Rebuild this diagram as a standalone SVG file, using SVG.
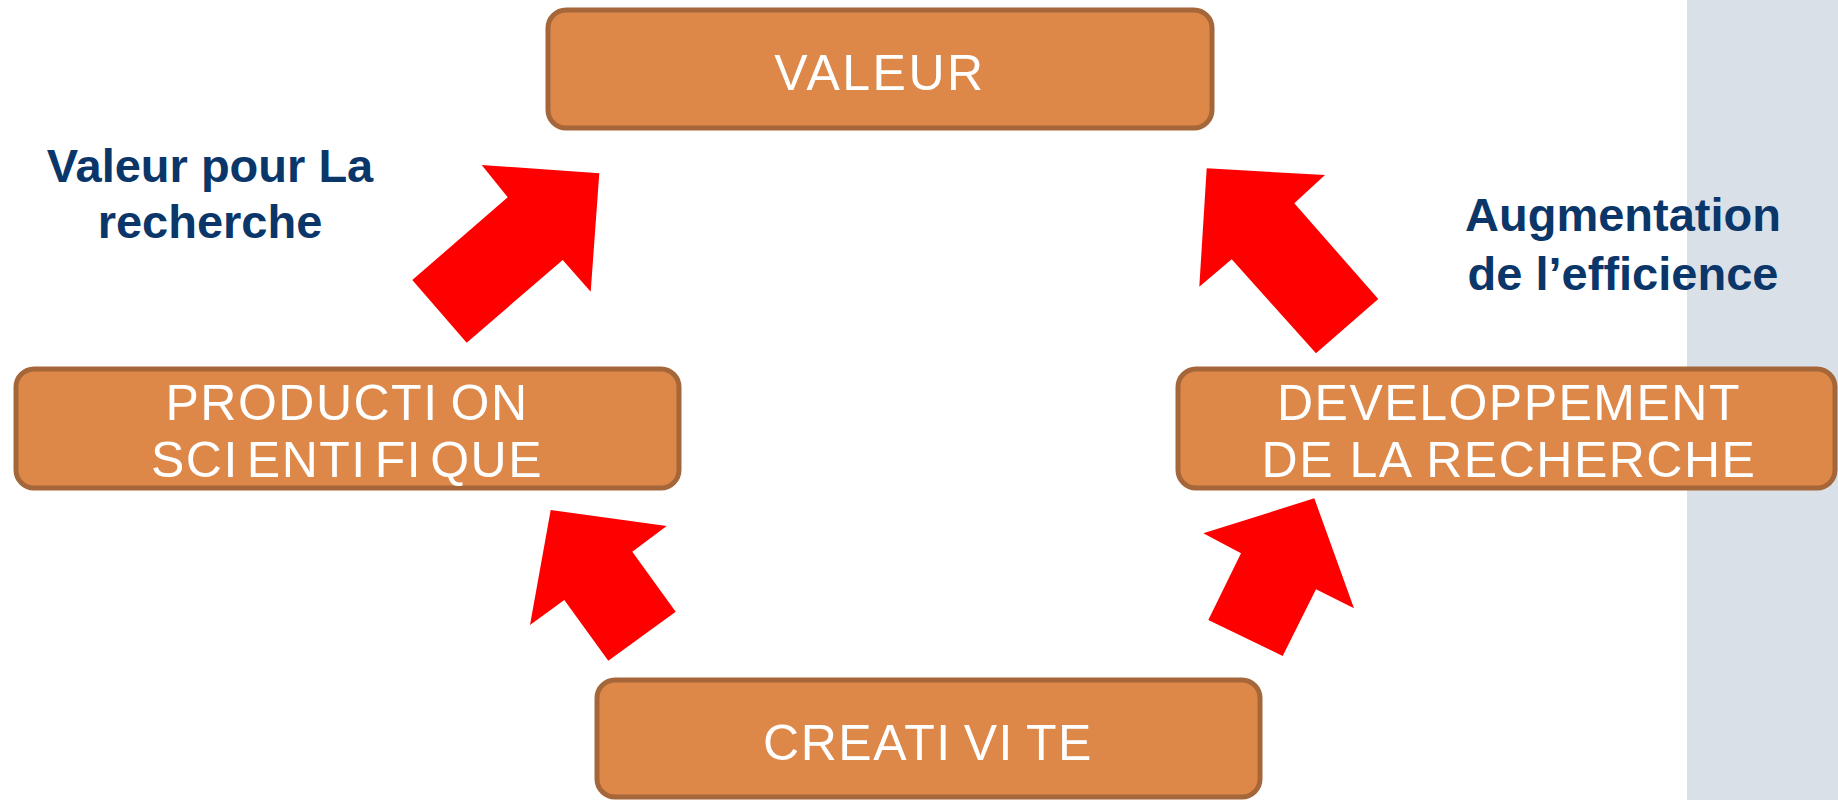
<svg xmlns="http://www.w3.org/2000/svg" width="1838" height="800" viewBox="0 0 1838 800">
<defs>
<style>
.box{fill:#DD8848;stroke:#A5663A;stroke-width:5}
.bt{font-family:"Liberation Sans",Arial,sans-serif;font-size:50px;fill:#FFFFFF;text-anchor:middle;letter-spacing:1.5px}
.lbl{font-family:"Liberation Sans",Arial,sans-serif;font-size:47px;font-weight:bold;fill:#0B3669;text-anchor:middle}
.arr{fill:#FF0000}
</style>
</defs>
<rect x="1687" y="0" width="151" height="800" fill="#D9E0E8"/>
<g id="label-left">
<text class="lbl" x="210" y="182">Valeur pour La</text>
<text class="lbl" x="210" y="238">recherche</text>
</g>
<g id="label-right">
<text class="lbl" x="1623" y="231">Augmentation</text>
<text class="lbl" x="1623" y="290">de l’efficience</text>
</g>
<g id="connectors">
<polygon class="arr" points="481.7,165 599.3,173.3 590.7,291.7 562.7,260 466.7,342.7 412.3,280 507.7,197.3"/>
<polygon class="arr" points="1206.7,168.3 1325,175 1294.3,203.3 1378.3,299 1316,353.3 1231.7,259.3 1199.3,286.7"/>
<polygon class="arr" points="550.7,510 666.7,526 632.3,551.7 675.7,611.7 608.3,660.7 564.3,600 530,625"/>
<polygon class="arr" points="1314.3,498.3 1354,608.3 1316,589.3 1282.7,656 1208.3,620 1241,553.3 1203.3,533.3"/>
</g>
<g id="node-valeur">
<rect class="box" x="548" y="10" width="664" height="118" rx="18"/>
<text class="bt" x="880" y="90" style="letter-spacing:2.5px">VALEUR</text>
</g>
<g id="node-production">
<rect class="box" x="16" y="369" width="663" height="119" rx="18"/>
<text class="bt" x="347" y="420">PRODUCTI<tspan dx="12">ON</tspan></text>
<text class="bt" x="347" y="477">SCI<tspan dx="8">ENTI</tspan><tspan dx="8">FI</tspan><tspan dx="8">QUE</tspan></text>
</g>
<g id="node-developpement">
<rect class="box" x="1178" y="369" width="657" height="119" rx="18"/>
<text class="bt" x="1509" y="420">DEVELOPPEMENT</text>
<text class="bt" x="1509" y="477">DE LA RECHERCHE</text>
</g>
<g id="node-creativite">
<rect class="box" x="597" y="680" width="663" height="117" rx="18"/>
<text class="bt" x="928" y="760">CREATI<tspan dx="12">VI</tspan><tspan dx="12">TE</tspan></text>
</g>
</svg>
